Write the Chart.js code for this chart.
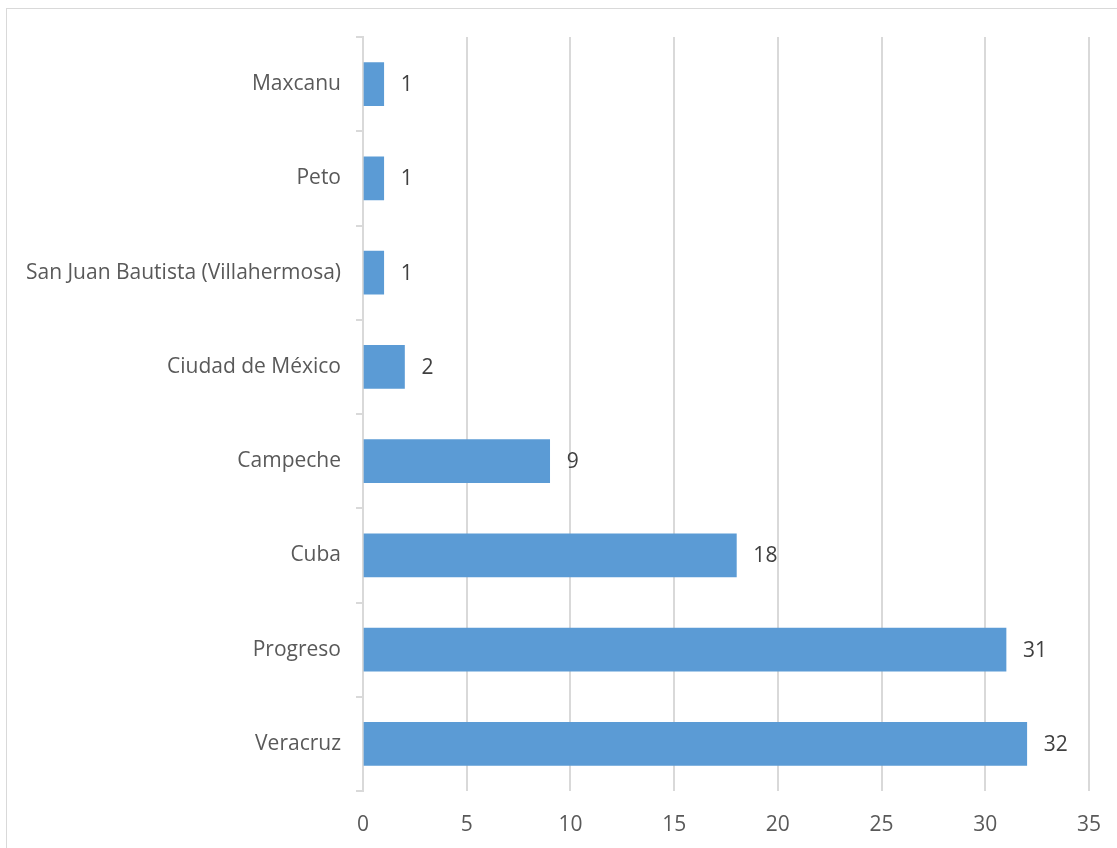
<!DOCTYPE html>
<html>
<head>
<meta charset="utf-8">
<script src="https://cdn.jsdelivr.net/npm/chart.js@4/dist/chart.umd.min.js"></script>
<style>
  html, body { margin: 0; padding: 0; background: #ffffff; }
  #wrap { position: relative; width: 1117px; height: 848px; overflow: hidden; }
  #frame { position: absolute; left: 6px; top: 8px; width: 1130px; height: 860px;
           border: 1px solid #d9d9d9; box-sizing: border-box; }
  canvas { position: absolute; left: 0; top: 0; }
</style>
</head>
<body>
<div id="wrap">
  <div id="frame"></div>
  <canvas id="chart" width="1117" height="848"></canvas>
</div>
<script>
// Ports of origin, listed top to bottom
const categories = [
  'Maxcanu',
  'Peto',
  'San Juan Bautista (Villahermosa)',
  'Ciudad de México',
  'Campeche',
  'Cuba',
  'Progreso',
  'Veracruz'
];
const counts = [1, 1, 1, 2, 9, 18, 31, 32];
const xTicks = [0, 5, 10, 15, 20, 25, 30, 35];

const FONT = "'Open Sans', sans-serif";
const TEXT = '#595959';
const GRID = '#d9d9d9';

// Writes each bar's value just past its end
const valueLabels = {
  id: 'valueLabels',
  afterDatasetsDraw(chart) {
    const ctx = chart.ctx;
    const meta = chart.getDatasetMeta(0);
    ctx.save();
    ctx.font = '21px ' + FONT;
    ctx.fillStyle = '#404040';
    ctx.textAlign = 'left';
    ctx.textBaseline = 'middle';
    meta.data.forEach((bar, i) => {
      ctx.fillText(String(counts[i]), bar.x + 17, bar.y + 1);
    });
    ctx.restore();
  }
};

new Chart(document.getElementById('chart'), {
  type: 'bar',
  data: {
    labels: categories,
    datasets: [{
      data: counts,
      backgroundColor: '#5b9bd5',
      borderWidth: 0,
      barThickness: 43
    }]
  },
  options: {
    indexAxis: 'y',
    responsive: false,
    animation: false,
    layout: { padding: { left: 0, right: 28, top: 37, bottom: 0 } },
    plugins: { legend: { display: false }, tooltip: { enabled: false } },
    scales: {
      x: {
        min: 0,
        max: 35,
        afterBuildTicks(scale) { scale.ticks = xTicks.map(v => ({ value: v })); },
        afterFit(scale) {
          scale.height = 57;
          scale.paddingLeft = 0;
          scale.paddingRight = 0;
        },
        border: { display: false },
        grid: { color: GRID, lineWidth: 2, drawTicks: false },
        ticks: { color: TEXT, font: { family: FONT, size: 21 }, padding: 21 }
      },
      y: {
        offset: true,
        afterFit(scale) { scale.width = 363; },
        border: { display: true, color: GRID, width: 2 },
        grid: { offset: true, drawOnChartArea: false, color: GRID, lineWidth: 2, tickLength: 7 },
        ticks: { color: TEXT, font: { family: FONT, size: 21 }, padding: 15 }
      }
    }
  },
  plugins: [valueLabels]
});
</script>
</body>
</html>
